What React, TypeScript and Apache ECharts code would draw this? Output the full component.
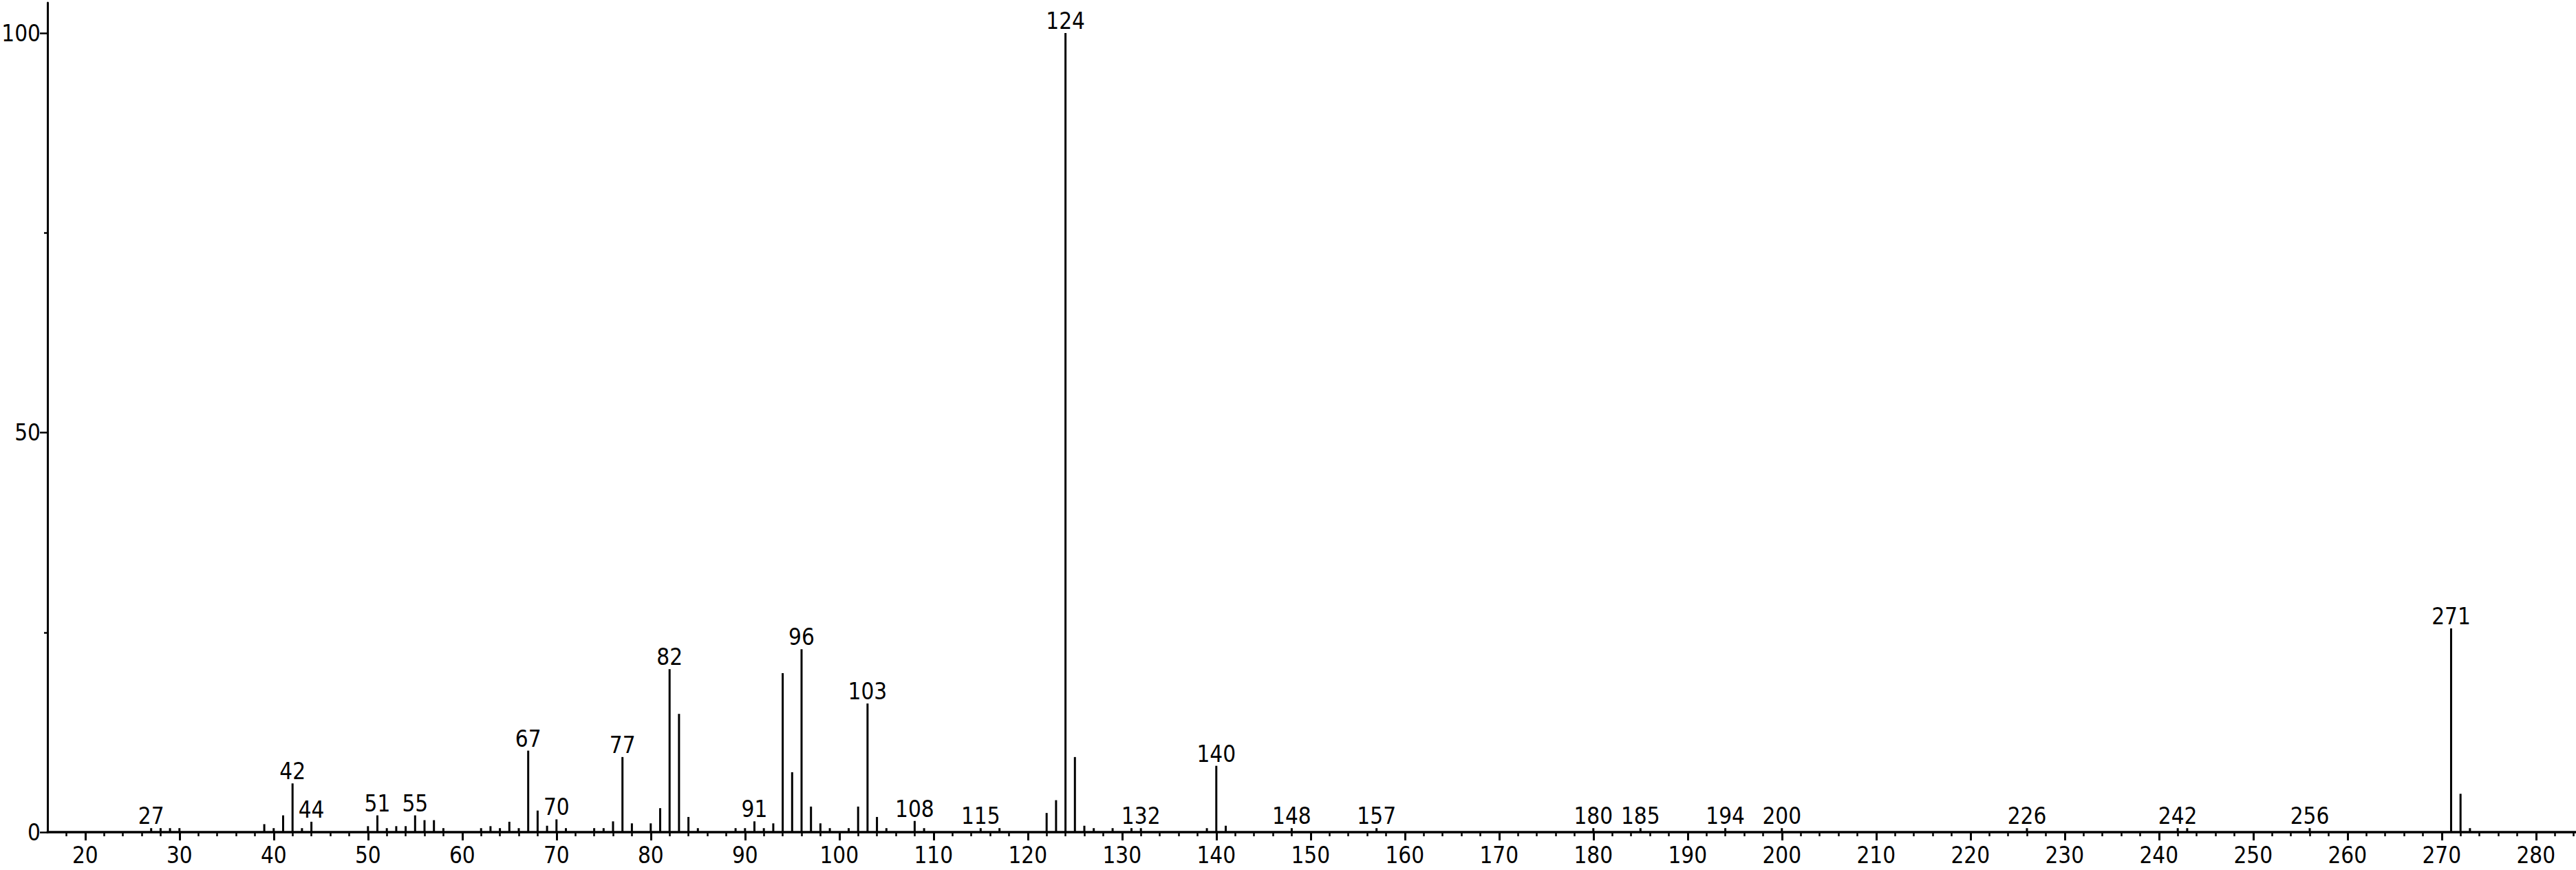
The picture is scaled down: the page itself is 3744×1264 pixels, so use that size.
import React, { useEffect, useRef } from "react";
import * as echarts from "echarts";

// m/z values of the peaks
const mz = [
  27, 28, 29, 30, 39, 40, 41, 42, 43, 44, 50, 51, 52, 53, 54, 55, 56, 57, 58,
  62, 63, 64, 65, 66, 67, 68, 69, 70, 71, 74, 75, 76, 77, 78, 80, 81, 82, 83,
  84, 85, 89, 90, 91, 92, 93, 94, 95, 96, 97, 98, 99, 101, 102, 103, 104, 105,
  108, 109, 115, 117, 122, 123, 124, 125, 126, 127, 129, 131, 132, 139, 140,
  141, 148, 157, 180, 185, 194, 200, 226, 242, 243, 256, 271, 272, 273,
];

// relative intensities (%)
const intensity = [
  0.5, 0.5, 0.5, 0.5, 1.0, 0.5, 2.1, 6.1, 0.5, 1.3, 0.75, 2.1, 0.5, 0.75, 0.75, 2.1, 1.5, 1.5, 0.5,
  0.5, 0.75, 0.5, 1.3, 0.5, 10.2, 2.7, 0.8, 1.6, 0.5, 0.5, 0.5, 1.35, 9.4, 1.1, 1.1, 3.0, 20.4, 14.8,
  1.9, 0.5, 0.5, 0.5, 1.35, 0.5, 1.1, 19.9, 7.5, 22.9, 3.2, 1.1, 0.5, 0.5, 3.2, 16.1, 1.9, 0.5,
  1.4, 0.5, 0.5, 0.5, 2.4, 4.0, 100, 9.4, 0.8, 0.5, 0.5, 0.5, 0.5, 0.5, 8.3,
  0.8, 0.5, 0.5, 0.5, 0.5, 0.5, 0.5, 0.5, 0.5, 0.5, 0.5, 25.5, 4.8, 0.5,
];

// peaks carrying an m/z annotation
const labeledMz = [
  27, 42, 44, 51, 55, 67, 70, 77, 82, 91, 96, 103, 108, 115, 124, 132, 140,
  148, 157, 180, 185, 194, 200, 226, 242, 256, 271,
];

// axis tick values
const xMajorTicks = [
  20, 30, 40, 50, 60, 70, 80, 90, 100, 110, 120, 130, 140, 150, 160, 170, 180,
  190, 200, 210, 220, 230, 240, 250, 260, 270, 280,
];
const yMajorTicks = [0, 50, 100];
const yMinorTicks = [25, 75];

const FONT =
  "'Liberation Sans Narrow', 'Arial Narrow', 'DejaVu Sans Condensed', sans-serif";
const FONT_SIZE = 33;

export default function App() {
  const ref = useRef<HTMLDivElement>(null);

  useEffect(() => {
    document.body.style.margin = "0";
    document.body.style.overflow = "hidden";
    const chart = echarts.init(ref.current!, null, { renderer: "svg" });

    const xMinorTicks: number[] = [];
    for (let v = 18; v <= 284; v += 2) if (v % 10 !== 0) xMinorTicks.push(v);

    const X_MIN = 16;
    const X_MAX = 284.25;
    const Y_MAX = 103.8;

    chart.setOption({
      animation: false,
      backgroundColor: "#ffffff",
      grid: {
        left: 69,
        right: 0,
        top: 4,
        bottom: 55,
        containLabel: false,
        outerBoundsMode: "none",
      },
      xAxis: [
        {
          type: "value",
          min: X_MIN,
          max: X_MAX,
          position: "bottom",
          axisLine: { show: true, onZero: false, lineStyle: { color: "#000", width: 3.5 } },
          axisTick: {
            show: true,
            customValues: xMajorTicks,
            length: 12,
            lineStyle: { color: "#000", width: 3 },
          },
          axisLabel: {
            show: true,
            customValues: xMajorTicks,
            margin: 17,
            fontSize: FONT_SIZE,
            color: "#000",
            fontFamily: FONT,
          },
          splitLine: { show: false },
        },
        {
          type: "value",
          min: X_MIN,
          max: X_MAX,
          position: "bottom",
          axisLine: { show: false },
          axisTick: {
            show: true,
            customValues: xMinorTicks,
            length: 6,
            lineStyle: { color: "#000", width: 2.5 },
          },
          axisLabel: { show: false },
          splitLine: { show: false },
        },
      ],
      yAxis: [
        {
          type: "value",
          min: 0,
          max: Y_MAX,
          position: "left",
          axisLine: { show: true, onZero: false, lineStyle: { color: "#000", width: 3 } },
          axisTick: {
            show: true,
            customValues: yMajorTicks,
            length: 11,
            lineStyle: { color: "#000", width: 2.5 },
          },
          axisLabel: {
            show: true,
            customValues: yMajorTicks,
            margin: 10,
            fontSize: FONT_SIZE,
            color: "#000",
            fontFamily: FONT,
          },
          splitLine: { show: false },
        },
        {
          type: "value",
          min: 0,
          max: Y_MAX,
          position: "left",
          axisLine: { show: false },
          axisTick: {
            show: true,
            customValues: yMinorTicks,
            length: 5,
            lineStyle: { color: "#000", width: 2.5 },
          },
          axisLabel: { show: false },
          splitLine: { show: false },
        },
      ],
      series: [
        {
          type: "bar",
          xAxisIndex: 0,
          yAxisIndex: 0,
          barWidth: 3,
          itemStyle: { color: "#000" },
          label: {
            show: false,
            position: "top",
            distance: 1,
            fontSize: FONT_SIZE,
            color: "#000",
            fontFamily: FONT,
            formatter: (p: any) => String(p.value[0]),
          },
          data: mz.map((m, i) => ({
            value: [m, intensity[i]],
            label: { show: labeledMz.includes(m) },
          })),
        },
      ],
    });

    return () => chart.dispose();
  }, []);

  return <div ref={ref} style={{ width: 3744, height: 1264 }} />;
}
